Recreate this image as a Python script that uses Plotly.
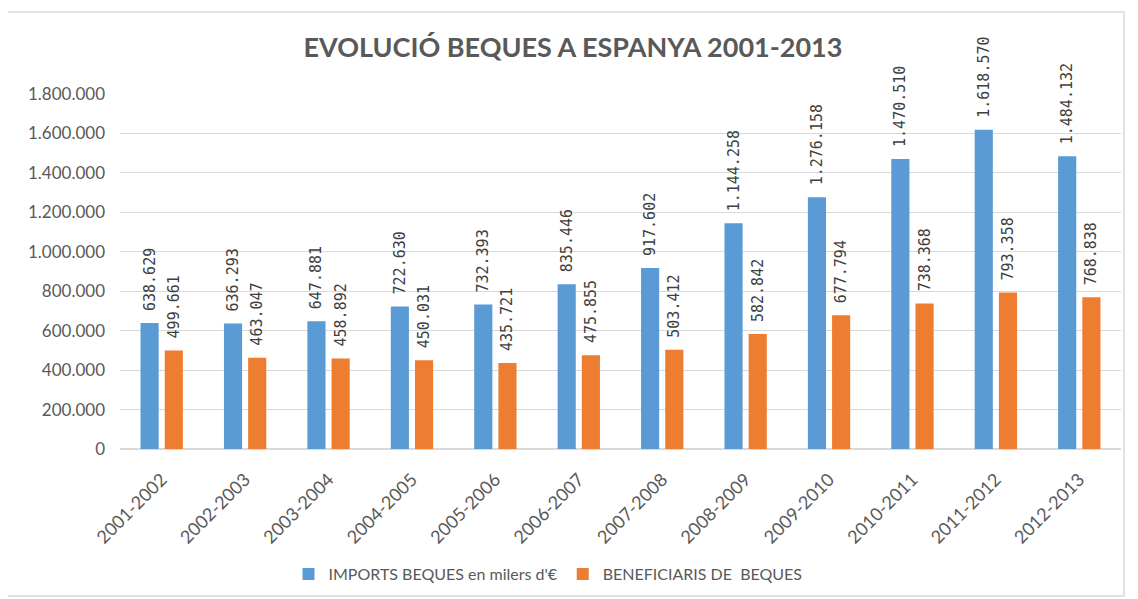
import plotly.graph_objects as go

categories = ["2001-2002", "2002-2003", "2003-2004", "2004-2005", "2005-2006", "2006-2007",
              "2007-2008", "2008-2009", "2009-2010", "2010-2011", "2011-2012", "2012-2013"]
imports = [638629, 636293, 647881, 722630, 732393, 835446, 917602, 1144258, 1276158, 1470510, 1618570, 1484132]
beneficiaris = [499661, 463047, 458892, 450031, 435721, 475855, 503412, 582842, 677794, 738368, 793358, 768838]

FONT = "Lato, Open Sans, sans-serif"
MONO = "DejaVu Sans Mono, Liberation Mono, monospace"
GREY = "#595959"
LBL = 15

# page has an 8px body margin; figure is sized so the plot lands where the reference has it
W, H = 1130, 591
L, T, R, B = 112, 86, 17, 150
PW, PH = W - L - R, H - T - B

fig = go.Figure()
fig.add_trace(go.Bar(
    x=categories, y=imports, name="IMPORTS BEQUES en milers d'€",
    marker=dict(color="#5B9BD5", line=dict(width=0)),
    texttemplate="\u00a0%{y:,}", textposition="outside", textangle=-90,
    textfont=dict(size=LBL, color="#404040", family=MONO), cliponaxis=False,
))
fig.add_trace(go.Bar(
    x=categories, y=beneficiaris, name="BENEFICIARIS DE  BEQUES",
    marker=dict(color="#ED7D31", line=dict(width=0)),
    texttemplate="\u00a0%{y:,}", textposition="outside", textangle=-90,
    textfont=dict(size=LBL, color="#404040", family=MONO), cliponaxis=False,
))

fig.update_layout(
    width=W, height=H,
    separators=",.",
    paper_bgcolor="white", plot_bgcolor="white",
    margin=dict(l=L, r=R, t=T, b=B, autoexpand=False),
    barmode="group", bargap=0.42, bargroupgap=0.25,
    uniformtext=dict(minsize=LBL, mode="show"),
    title=dict(text="<b>EVOLUCIÓ BEQUES A ESPANYA 2001-2013</b>", x=(573 - 8) / W, xanchor="center",
               y=1 - (48 - 8) / H, yanchor="middle", font=dict(size=27, color=GREY, family=FONT)),
    font=dict(family=FONT, color=GREY, size=16),
    legend=dict(orientation="h", x=(548 - 120) / PW, xanchor="center",
                y=(449 - 574) / PH, yanchor="middle",
                font=dict(size=16, color=GREY, family=FONT), itemwidth=30,
                traceorder="normal"),
    yaxis=dict(range=[0, 1800000], dtick=200000, tickformat=",", showgrid=True,
               gridcolor="#D9D9D9", gridwidth=1, zeroline=True, zerolinecolor="#D9D9D9",
               showline=False, ticks="", ticklen=0, ticklabelstandoff=14,
               tickfont=dict(size=17, color=GREY, family=FONT)),
    xaxis=dict(tickangle=-45, showline=True, linecolor="#D9D9D9", ticks="",
               ticklabelstandoff=12,
               tickfont=dict(size=18, color=GREY, family=FONT)),
    shapes=[dict(type="rect", xref="paper", yref="paper",
                 x0=(5 - 120) / PW, x1=(1124 - 120) / PW,
                 y0=(449 - 596) / PH, y1=(449 - 12) / PH,
                 line=dict(color="#D9D9D9", width=1.5), layer="below")],
)

fig.write_html("out.html")
